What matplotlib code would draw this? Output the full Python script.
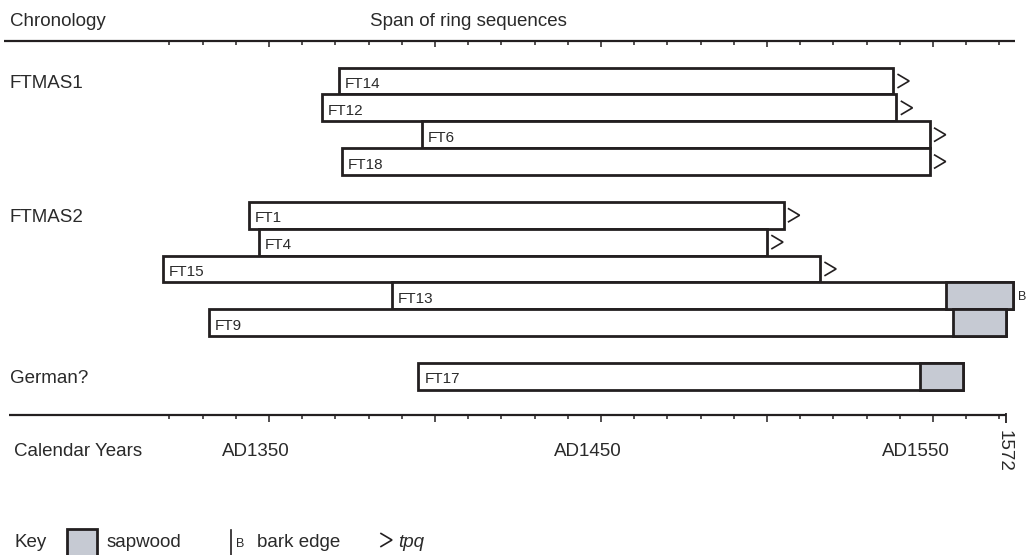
import matplotlib
matplotlib.use("Agg")
import matplotlib.pyplot as plt
from matplotlib.patches import Rectangle

plt.rcParams['font.family'] = ['Liberation Sans', 'DejaVu Sans']

# ---- data (calendar years) ----
samples = ['FT14', 'FT12', 'FT6', 'FT18', 'FT1', 'FT4', 'FT15', 'FT13', 'FT9', 'FT17']
rows = [0, 1, 2, 3, 5, 6, 7, 8, 9, 11]
start_year = [1371, 1366, 1396, 1372, 1344, 1347, 1318, 1387, 1332, 1395]
end_year = [1538, 1539, 1549, 1549, 1505, 1500, 1516, 1574, 1572, 1559]
sapwood_start = [None, None, None, None, None, None, None, 1554, 1556, 1546]
tpq = [True, True, True, True, True, True, True, False, False, False]
bark_edge = [False, False, False, False, False, False, False, True, False, False]

groups = ['FTMAS1', 'FTMAS2', 'German?']
group_rows = [0, 5, 11]

axis_ticks = list(range(1320, 1571, 10))
major_ticks = [1350, 1400, 1450, 1500, 1550]
year_labels = ['AD1350', 'AD1450', 'AD1550']
year_label_pos = [1346, 1446, 1545]
end_year_label = 1572

# ---- layout helpers ----
W, H = 1029, 555
PX_PER_YEAR = 3.32
X0_PIX, X0_YEAR = 269, 1350
ROW0_PIX, ROW_PIX = 81, 26.85


def X(p):
    return X0_YEAR + (p - X0_PIX) / PX_PER_YEAR


def Y(p):
    return (p - ROW0_PIX) / ROW_PIX


def DX(p):
    return p / PX_PER_YEAR


def DY(p):
    return p / ROW_PIX


EDGE = '#231f20'
TXT = '#2a2a2a'
SAP = '#c6cad3'

fig = plt.figure(figsize=(W / 100, H / 100), dpi=100)
ax = fig.add_axes([0, 0, 1, 1])
ax.set_xlim(X(0), X(W))
ax.set_ylim(Y(H), Y(0))
ax.axis('off')

FS = 13.5
# headers
ax.text(X(10), Y(26), 'Chronology', fontsize=FS, color=TXT, va='baseline', ha='left')
ax.text(X(468), Y(26), 'Span of ring sequences', fontsize=FS, color=TXT, va='baseline', ha='center')

# axis lines
lw_axis = 1.6
ax.plot([X(4), X(1015)], [Y(41), Y(41)], color=EDGE, lw=lw_axis, solid_capstyle='butt')
ax.plot([X(9), end_year_label], [Y(415), Y(415)], color=EDGE, lw=lw_axis, solid_capstyle='butt')
for t in axis_ticks:
    L = 6 if t in major_ticks else 4
    ax.plot([t, t], [Y(41), Y(41 + L)], color=EDGE, lw=1.1, solid_capstyle='butt')
    L2 = 7 if t in major_ticks else 4
    ax.plot([t, t], [Y(415), Y(415 + L2)], color=EDGE, lw=1.1, solid_capstyle='butt')
ax.plot([end_year_label, end_year_label], [Y(413), Y(423)], color=EDGE, lw=1.3, solid_capstyle='butt')

# group labels
for g, r in zip(groups, group_rows):
    ax.text(X(10), r + DY(7), g, fontsize=FS, color=TXT, va='baseline', ha='left')

# bars
h = 1.0
for name, r, s, e, sap, tp, bk in zip(samples, rows, start_year, end_year,
                                       sapwood_start, tpq, bark_edge):
    ax.add_patch(Rectangle((s, r - h / 2), e - s, h, facecolor='white',
                           edgecolor=EDGE, lw=2.0, zorder=2))
    if sap is not None:
        ax.add_patch(Rectangle((sap, r - h / 2), e - sap, h, facecolor=SAP,
                               edgecolor=EDGE, lw=2.0, zorder=3))
    ax.text(s + DX(6), r + DY(7), name, fontsize=11, color=TXT,
            va='baseline', ha='left', zorder=4)
    if tp:
        x1 = e + DX(5)
        x2 = e + DX(16)
        ax.plot([x1, x2, x1], [r - DY(6.5), r, r + DY(6.5)], color=EDGE,
                lw=1.2, solid_joinstyle='miter', zorder=4)
    if bk:
        ax.text(e + DX(5), r + DY(4.5), 'B', fontsize=9, color=TXT,
                va='baseline', ha='left')

# calendar axis labels
ax.text(X(14), Y(456), 'Calendar Years', fontsize=FS, color=TXT, va='baseline', ha='left')
for lab, pos in zip(year_labels, year_label_pos):
    ax.text(pos, Y(456), lab, fontsize=FS, color=TXT, va='baseline', ha='center')
ax.text(end_year_label - DX(2), Y(451), str(end_year_label), fontsize=FS, color=TXT,
        rotation=-90, va='center', ha='center')

# key
ax.text(X(14), Y(547), 'Key', fontsize=FS, color=TXT, va='baseline', ha='left')
ax.add_patch(Rectangle((X(67), Y(529)), DX(30), DY(32), facecolor=SAP,
                       edgecolor=EDGE, lw=2.0))
ax.text(X(107), Y(547), 'sapwood', fontsize=FS, color=TXT, va='baseline', ha='left')
ax.plot([X(231), X(231)], [Y(530), Y(556)], color=EDGE, lw=1.2)
ax.text(X(236), Y(547), 'B', fontsize=9, color=TXT, va='baseline', ha='left')
ax.text(X(257), Y(547), 'bark edge', fontsize=FS, color=TXT, va='baseline', ha='left')
kx, ky = X(381), Y(540)
ax.plot([kx, kx + DX(11), kx], [ky - DY(6.5), ky, ky + DY(6.5)], color=EDGE, lw=1.2,
        solid_joinstyle='miter')
ax.text(X(398), Y(547), 'tpq', fontsize=FS, color=TXT, style='italic', va='baseline', ha='left')

fig.savefig('out.png', dpi=100)
